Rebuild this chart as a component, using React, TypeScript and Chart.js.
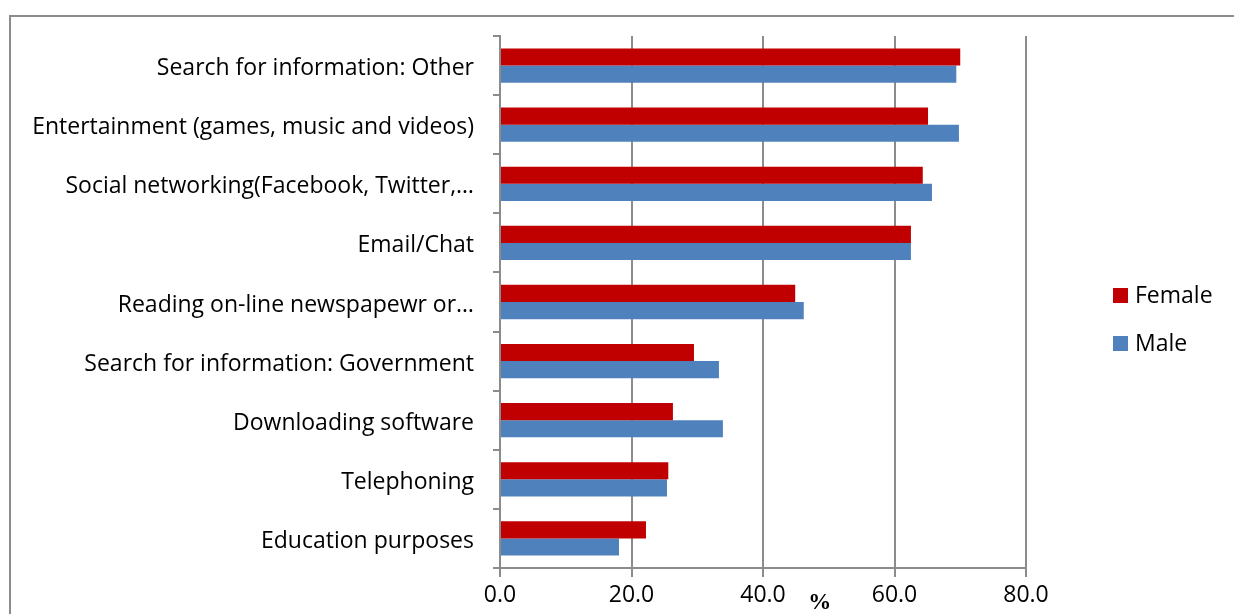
import React, { useEffect, useRef } from "react";
import { Chart, registerables } from "chart.js";

Chart.register(...registerables);

const categories = [
  "Search for information: Other",
  "Entertainment (games, music and videos)",
  "Social networking(Facebook, Twitter,…",
  "Email/Chat",
  "Reading on-line newspapewr or…",
  "Search for information: Government",
  "Downloading software",
  "Telephoning",
  "Education purposes",
];
const femaleValues = [70.0, 65.1, 64.3, 62.5, 44.9, 29.5, 26.3, 25.6, 22.2];
const maleValues = [69.4, 69.8, 65.7, 62.5, 46.2, 33.3, 33.9, 25.4, 18.1];
const xTicks = [0, 20, 40, 60, 80];
const xTitle = "%";

const FONT = "'Open Sans', sans-serif";

const framePlugin = {
  id: "frame",
  beforeDraw(chart: any) {
    const ctx = chart.ctx;
    ctx.save();
    ctx.fillStyle = "#ffffff";
    ctx.fillRect(0, 0, chart.width, chart.height);
    ctx.strokeStyle = "#8c8c8c";
    ctx.lineWidth = 2;
    ctx.beginPath();
    ctx.moveTo(10, chart.height + 5);
    ctx.lineTo(10, 16);
    ctx.lineTo(chart.width + 5, 16);
    ctx.stroke();
    ctx.restore();
  },
  afterDraw(chart: any) {
    const ctx = chart.ctx;
    const x = chart.scales.x;
    const area = chart.chartArea;
    ctx.save();
    // axis title
    ctx.fillStyle = "#000000";
    ctx.font = "bold 23px 'Liberation Serif', serif";
    ctx.textAlign = "center";
    ctx.textBaseline = "middle";
    const px = x.left + (x.right - x.left) * 0.608;
    ctx.fillText(xTitle, px, 603);
    // legend
    const boxX = area.right + 87;
    const startY = 295;
    const step = 48;
    ctx.font = "23px " + FONT;
    ctx.textAlign = "left";
    chart.data.datasets.forEach((ds: any, i: number) => {
      const cy = startY + i * step;
      ctx.fillStyle = ds.backgroundColor;
      ctx.fillRect(boxX, cy - 7, 15, 15);
      ctx.fillStyle = "#000000";
      ctx.fillText(ds.label, boxX + 22, cy + 1);
    });
    ctx.restore();
  },
};

export default function App() {
  const ref = useRef<HTMLCanvasElement | null>(null);
  useEffect(() => {
    if (!ref.current) return;
    const chart = new Chart(ref.current, {
      type: "bar",
      data: {
        labels: categories,
        datasets: [
          {
            label: "Female",
            data: femaleValues,
            backgroundColor: "#c00000",
            borderWidth: 0,
            barPercentage: 1,
            categoryPercentage: 0.58,
          },
          {
            label: "Male",
            data: maleValues,
            backgroundColor: "#4f81bd",
            borderWidth: 0,
            barPercentage: 1,
            categoryPercentage: 0.58,
          },
        ],
      },
      options: {
        indexAxis: "y",
        animation: false,
        responsive: false,
        maintainAspectRatio: false,
        layout: { padding: { top: 36, right: 208, bottom: 0, left: 0 } },
        scales: {
          x: {
            min: 0,
            max: 80,
            afterBuildTicks(axis: any) {
              axis.ticks = xTicks.map((v) => ({ value: v }));
            },
            afterFit(axis: any) {
              axis.height = 46;
            },
            ticks: {
              color: "#000000",
              font: { family: FONT, size: 23 },
              padding: 5,
              callback: (v: any) => Number(v).toFixed(1),
              maxRotation: 0,
            },
            grid: {
              color: "#8c8c8c",
              lineWidth: 2,
              tickLength: 9,
              drawOnChartArea: true,
            },
            border: { color: "#8c8c8c", width: 2 },
          },
          y: {
            afterFit(axis: any) {
              axis.width = 500;
            },
            ticks: {
              color: "#000000",
              font: { family: FONT, size: 23 },
              padding: 19,
              labelOffset: 3,
            },
            grid: {
              offset: true,
              drawOnChartArea: false,
              color: "#8c8c8c",
              lineWidth: 2,
              tickLength: 7,
            },
            border: { color: "#8c8c8c", width: 2 },
          },
        },
        plugins: {
          legend: { display: false },
          tooltip: { enabled: false },
        },
      },
      plugins: [framePlugin],
    });
    return () => chart.destroy();
  }, []);
  return (
    <div style={{ position: "fixed", left: 0, top: 0, width: 1234, height: 614 }}>
      <canvas ref={ref} width={1234} height={614} style={{ display: "block" }} />
    </div>
  );
}
